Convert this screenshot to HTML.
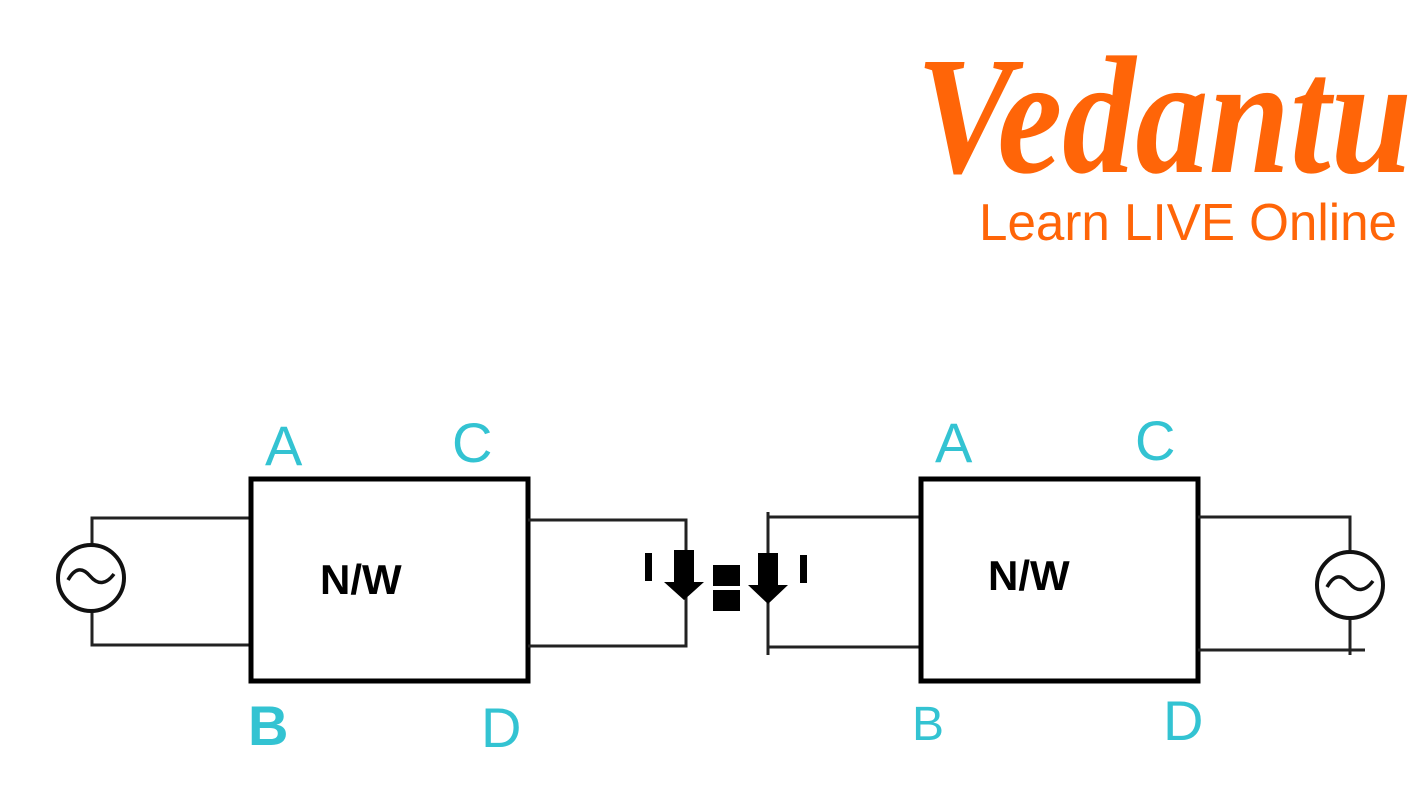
<!DOCTYPE html>
<html><head><style>
html,body{margin:0;padding:0;background:#fff;}
svg{display:block;}
</style></head><body>
<svg width="1425" height="785" viewBox="0 0 1425 785" xmlns="http://www.w3.org/2000/svg">
<rect width="1425" height="785" fill="#fff"/>
<!-- logo -->
<text x="916" y="172" font-family="Liberation Serif, serif" font-style="italic" font-weight="bold" font-size="168" fill="#ff6508" textLength="496" lengthAdjust="spacingAndGlyphs">Vedantu</text>
<text x="979" y="240" font-family="Liberation Sans, sans-serif" font-size="52" fill="#ff6508" textLength="418" lengthAdjust="spacingAndGlyphs">Learn LIVE Online</text>

<g fill="none" stroke="#222">
<!-- left circuit -->
<polyline points="250,518 92,518 92,545" stroke-width="3"/>
<polyline points="92,612 92,645 250,645" stroke-width="3"/>
<circle cx="91" cy="578" r="33" stroke="#111" stroke-width="4"/>
<path d="M68,580 Q78,562 90,576 T114,574" stroke="#111" stroke-width="3.5"/>
<rect x="251" y="479" width="277" height="202" stroke="#000" stroke-width="5"/>
<polyline points="528,520 686,520 686,646 528,646" stroke-width="3"/>
<!-- right circuit -->
<polyline points="920,517 768,517" stroke-width="3"/>
<line x1="768" y1="512" x2="768" y2="655" stroke-width="3"/>
<line x1="768" y1="647" x2="920" y2="647" stroke-width="3"/>
<rect x="921" y="479" width="277" height="202" stroke="#000" stroke-width="5"/>
<polyline points="1198,517 1350,517 1350,552" stroke-width="3"/>
<polyline points="1350,618 1350,655" stroke-width="3"/>
<line x1="1198" y1="650" x2="1365" y2="650" stroke-width="3"/>
<circle cx="1350" cy="585" r="33" stroke="#111" stroke-width="4"/>
<path d="M1327,587 Q1337,569 1349,583 T1373,581" stroke="#111" stroke-width="3.5"/>
</g>
<!-- arrows -->
<polygon points="674,550 694,550 694,582 704,582 684,600 664,582 674,582" fill="#000"/>
<polygon points="758,553 778,553 778,585 788,585 768,604 748,585 758,585" fill="#000"/>
<rect x="713" y="565" width="27" height="21" fill="#000"/>
<rect x="713" y="590" width="27" height="21" fill="#000"/>
<rect x="645" y="553" width="7" height="28" fill="#000"/>
<rect x="800" y="555" width="7" height="28" fill="#000"/>

<g font-family="Liberation Sans, sans-serif" font-weight="bold" fill="#000">
<text x="320" y="594" font-size="42">N/W</text>
<text x="988" y="590" font-size="42">N/W</text>
</g>
<g font-family="Liberation Sans, sans-serif" fill="#33c3d2" font-size="56">
<text x="265" y="465">A</text>
<text x="452" y="462">C</text>
<text x="248" y="745" font-weight="bold">B</text>
<text x="481" y="747">D</text>
<text x="935" y="462">A</text>
<text x="1135" y="460">C</text>
<text x="912" y="740" font-size="48">B</text>
<text x="1163" y="740">D</text>
</g>
</svg>
</body></html>
